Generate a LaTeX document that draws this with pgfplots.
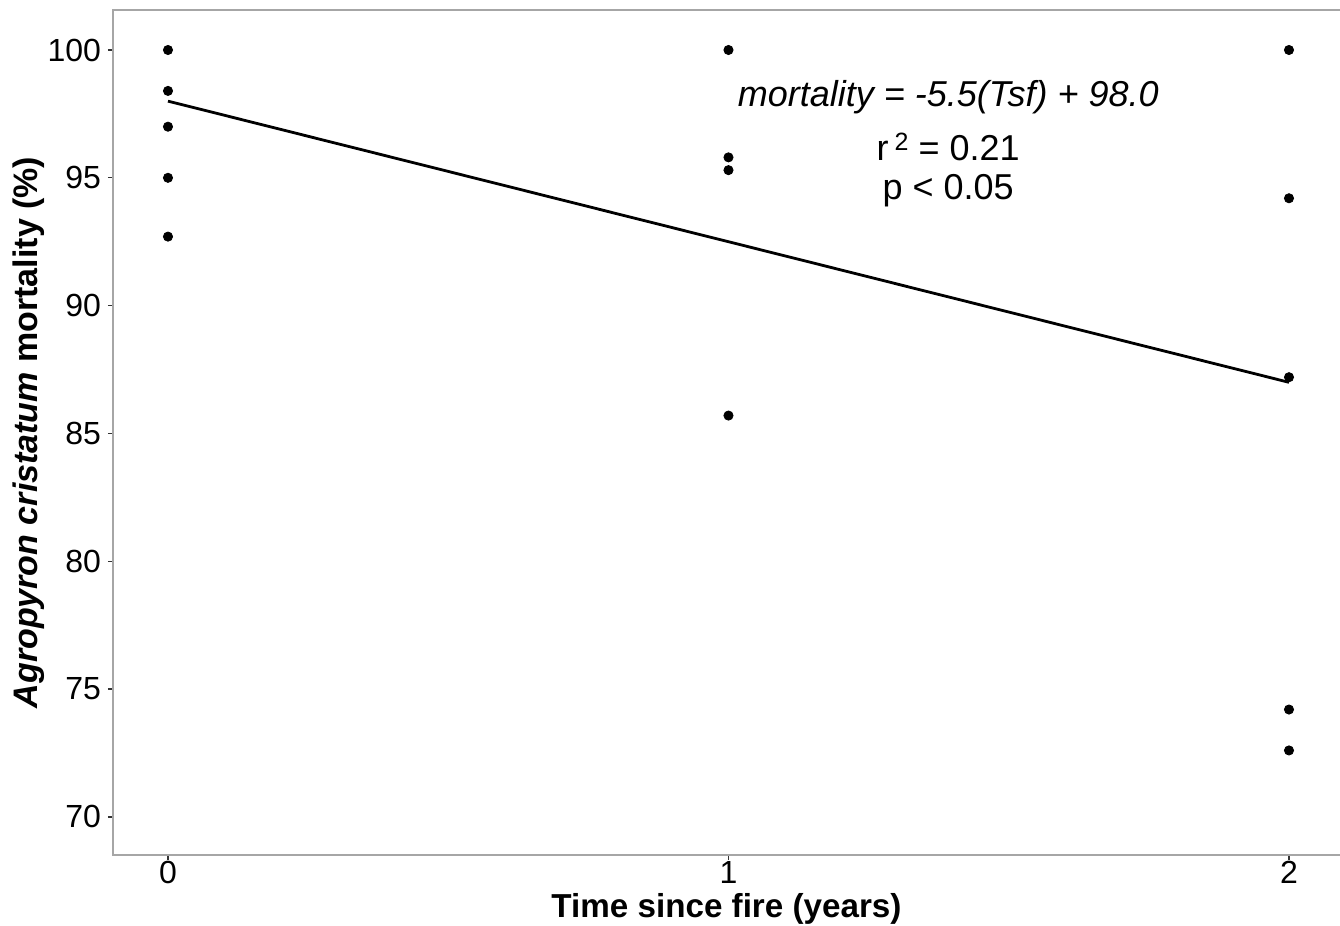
\documentclass[border=0pt]{standalone}
\usepackage{pgfplots}
\pgfplotsset{compat=1.18}
\usepackage{fontspec}
\setmainfont{Liberation Sans}
\definecolor{frame}{HTML}{A6A6A6}
\definecolor{tickc}{HTML}{333333}
\begin{document}
\begin{tikzpicture}
\useasboundingbox (-56.5pt,-35.5pt) rectangle (613.5pt,427.5pt);
\begin{axis}[
  scale only axis,
  width=613.5pt, height=422.5pt,
  xmin=-0.0981, xmax=2.091,
  ymin=68.51, ymax=101.565,
  xtick={0,1,2}, ytick={70,75,80,85,90,95,100},
  xtick pos=bottom, ytick pos=left,
  axis line style={draw=none},
  tick align=outside,
  major tick length=2.5pt,
  tick style={tickc, line width=0.6pt},
  /pgf/number format/assume math mode=true,
  ticklabel style={font=\fontsize{16}{19}\selectfont, text=black},
  xticklabel style={yshift=0.5pt, inner sep=1pt},
  xlabel={\textbf{Time since fire (years)}},
  ylabel={\textbf{\textit{Agropyron cristatum} mortality (\%)}},
  label style={font=\fontsize{17}{20}\selectfont},
  xlabel style={at={(axis description cs:0.5,0)}, anchor=base, yshift=-31.3pt, inner sep=0pt, font=\fontsize{16.6}{20}\selectfont},
  ylabel style={yshift=-5.5pt},
  clip=false,
]
\draw[frame, line width=0.8pt] (rel axis cs:1,0) -- (rel axis cs:0,0) -- (rel axis cs:0,1) -- (rel axis cs:1,1);
\addplot[only marks, mark=*, mark size=2.3pt, black] coordinates {
  (0,100) (0,98.4) (0,97.0) (0,95.0) (0,92.7)
  (1,100) (1,95.8) (1,95.3) (1,85.7)
  (2,100) (2,94.2) (2,87.2) (2,74.2) (2,72.6)
};
\addplot[black, line width=1.4pt] coordinates {(0,98.0) (2,87.0)};
\node[font=\fontsize{18}{21}\selectfont\itshape] at (axis cs:1.392,98.16) {mortality = -5.5(Tsf) + 98.0};
\node[font=\fontsize{18}{21}\selectfont] at (axis cs:1.392,96.2) {r\,\raisebox{0.55ex}{\fontsize{12.5}{14}\selectfont 2} = 0.21};
\node[font=\fontsize{18}{21}\selectfont] at (axis cs:1.392,94.5) {p < 0.05};
\end{axis}
\end{tikzpicture}
\end{document}
